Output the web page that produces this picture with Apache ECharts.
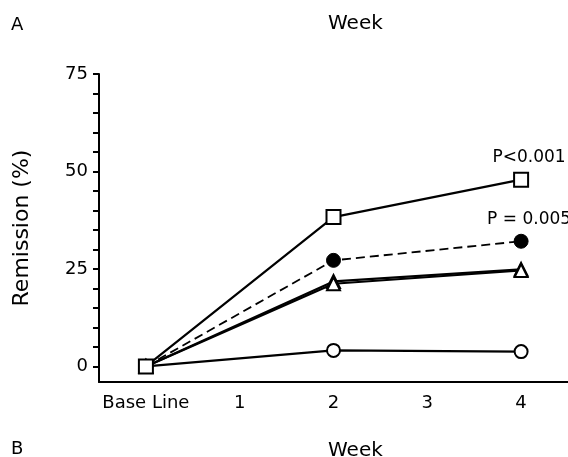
<!DOCTYPE html>
<html>
<head>
<meta charset="utf-8">
<script src="https://cdn.jsdelivr.net/npm/echarts@6/dist/echarts.min.js"></script>
<style>html,body{margin:0;padding:0;background:#fff}#c{width:568px;height:457px}</style>
</head>
<body>
<div id="c"></div>
<script>
var categories = ['Base Line', '1', '2', '3', '4'];
var squareOpen = [0, null, 38.3, null, 47.9];
var circleFilled = [0, null, 27.2, null, 32.1];
var triangleOpen = [0, null, 21.2, null, 24.6];
var triangleOpen2 = [0, null, 21.8, null, 24.9];
var circleOpen = [0, null, 4.1, null, 3.8];
var yTicks = [0, 5, 10, 15, 20, 25, 30, 35, 40, 45, 50, 55, 60, 65, 70, 75];
var yLabels = [0, 25, 50, 75];
var pLabels = ['P<0.001', 'P = 0.005'];

var FONT = 'DejaVu Sans';
var chart = echarts.init(document.getElementById('c'));

function withLabel(arr, text) {
  return arr.map(function (v, i) {
    if (i === arr.length - 1 && text) {
      return { value: v, label: { show: true, formatter: text } };
    }
    return v;
  });
}

var base = {
  type: 'line',
  connectNulls: true,
  symbolKeepAspect: true,
  animation: false,
  lineStyle: { color: '#000', width: 2.2 },
  itemStyle: { color: '#fff', borderColor: '#000', borderWidth: 2 },
  label: {
    show: false, position: 'top', color: '#000', fontFamily: FONT,
    fontSize: 17, distance: 6, offset: [8, 0]
  }
};

chart.setOption({
  animation: false,
  textStyle: { fontFamily: FONT },
  title: [
    { text: 'A', left: 6, top: 11, textStyle: { fontFamily: FONT, fontSize: 18, fontWeight: 'normal', color: '#000' } },
    { text: 'Week', left: 323, top: 9, textStyle: { fontFamily: FONT, fontSize: 20, fontWeight: 'normal', color: '#000' } },
    { text: 'B', left: 6, top: 435, textStyle: { fontFamily: FONT, fontSize: 18, fontWeight: 'normal', color: '#000' } },
    { text: 'Week', left: 323, top: 436, textStyle: { fontFamily: FONT, fontSize: 20, fontWeight: 'normal', color: '#000' } }
  ],
  grid: { left: 99, right: -1, top: 74, bottom: 75 },
  xAxis: {
    type: 'category',
    data: categories,
    boundaryGap: true,
    axisLine: { onZero: false, lineStyle: { color: '#000', width: 2 } },
    axisTick: { alignWithLabel: true, interval: 0, length: 6, lineStyle: { color: '#000', width: 2 } },
    axisLabel: { color: '#000', fontSize: 18, fontFamily: FONT, margin: 12, interval: 0 },
    splitLine: { show: false }
  },
  yAxis: {
    type: 'value',
    min: -4,
    max: 75,
    name: 'Remission (%)',
    nameLocation: 'middle',
    nameGap: 66,
    nameRotate: 90,
    nameTextStyle: { color: '#000', fontSize: 22, fontFamily: FONT },
    axisLine: { show: true, lineStyle: { color: '#000', width: 2 } },
    axisTick: { show: true, length: 6, customValues: yTicks, lineStyle: { color: '#000', width: 2 } },
    axisLabel: { color: '#000', fontSize: 18, fontFamily: FONT, margin: 11, customValues: yLabels },
    splitLine: { show: false }
  },
  series: [
    Object.assign({}, base, {
      name: 'circleOpen', data: circleOpen, symbol: 'circle', symbolSize: 13, z: 2
    }),
    Object.assign({}, base, {
      name: 'triangle2', data: triangleOpen2, symbol: 'triangle', symbolSize: 13, z: 3
    }),
    Object.assign({}, base, {
      name: 'triangle', data: triangleOpen, symbol: 'triangle', symbolSize: 13, z: 3
    }),
    Object.assign({}, base, {
      name: 'circleFilled', data: withLabel(circleFilled, pLabels[1]), symbol: 'circle', symbolSize: 14,
      lineStyle: { color: '#000', width: 1.8, type: [9, 5] },
      itemStyle: { color: '#000', borderColor: '#000', borderWidth: 1 }, z: 4
    }),
    Object.assign({}, base, {
      name: 'squareOpen', data: withLabel(squareOpen, pLabels[0]), symbol: 'rect', symbolSize: 14, z: 5
    })
  ]
});
</script>
</body>
</html>
